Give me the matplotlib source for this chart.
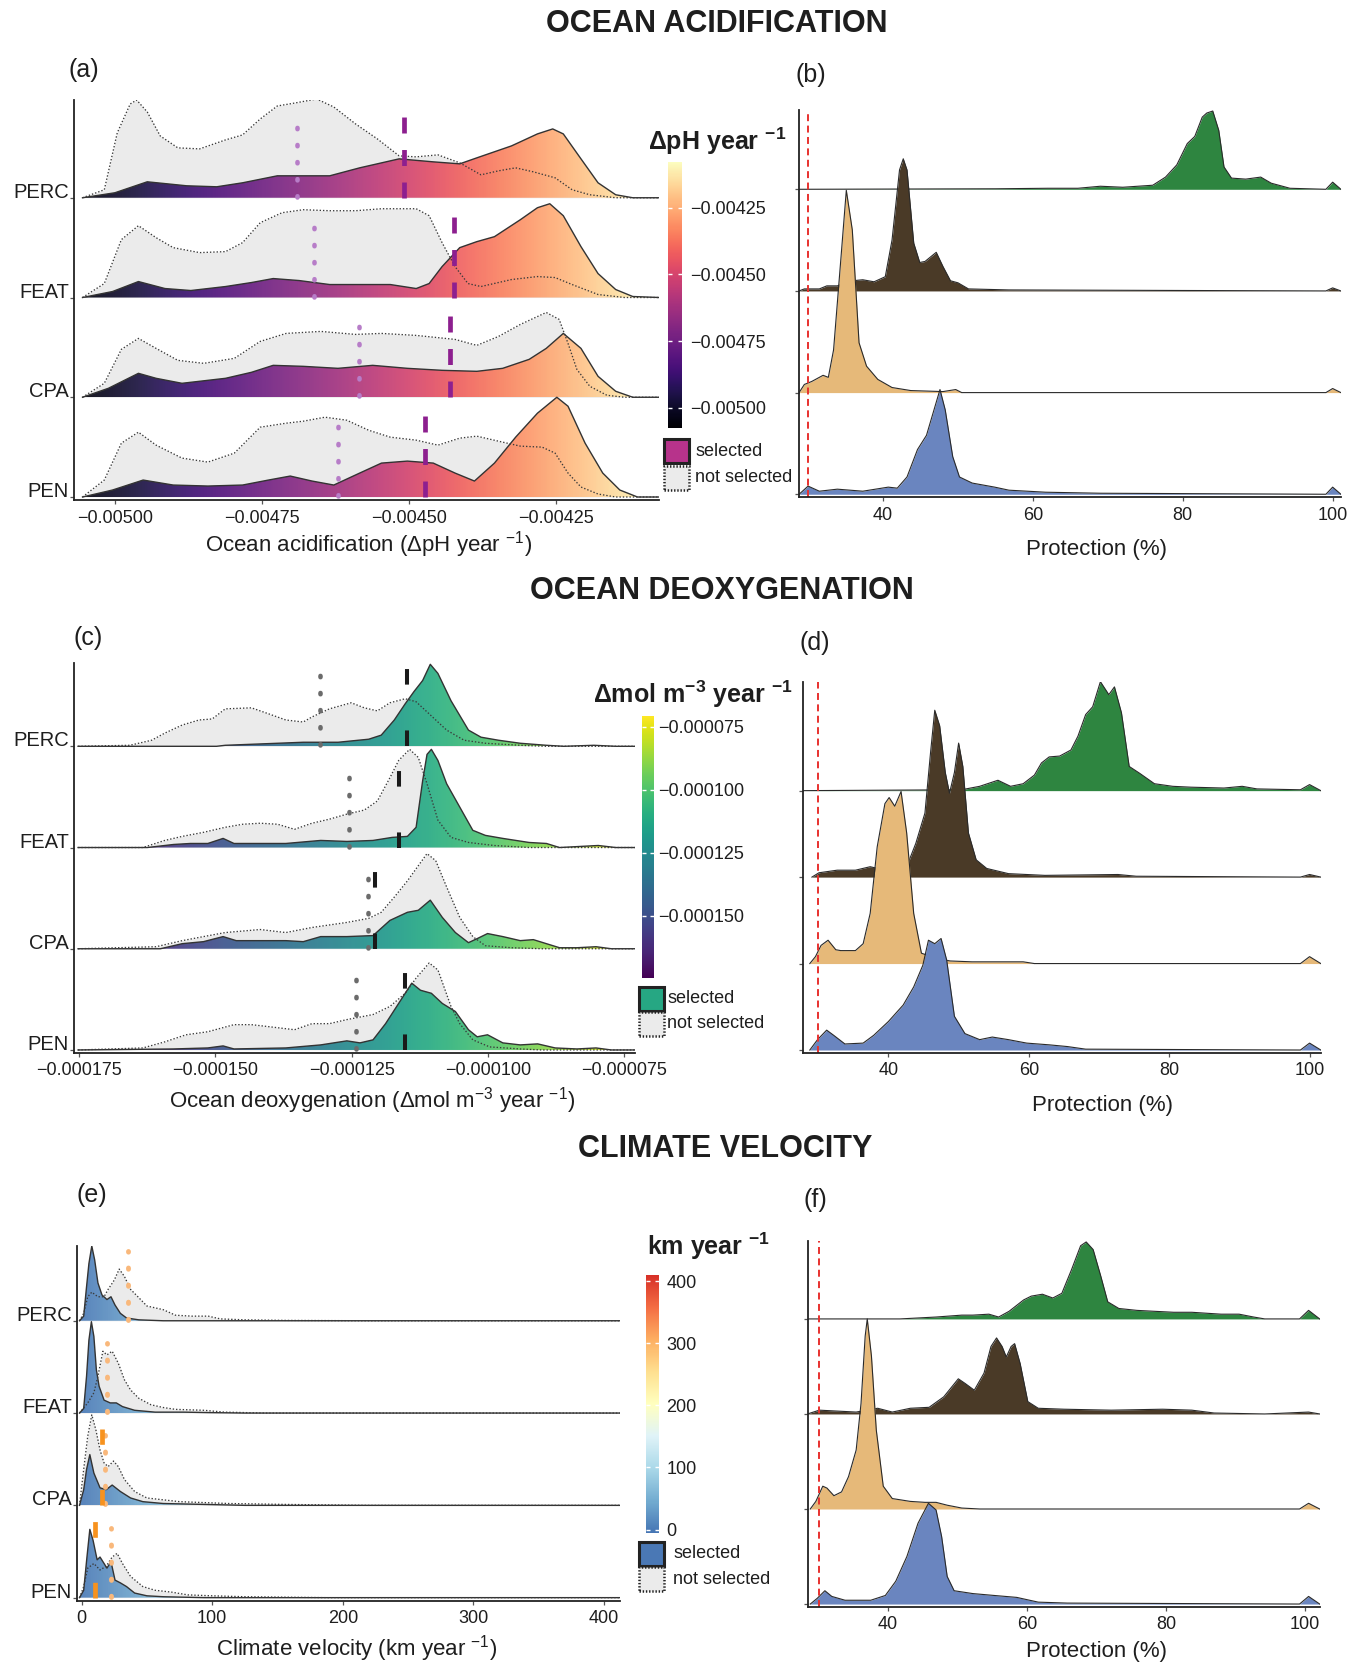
import numpy as np
import matplotlib
matplotlib.use("Agg")
import matplotlib.pyplot as plt
from matplotlib.colors import Normalize, LinearSegmentedColormap
from matplotlib.patches import Polygon, Rectangle
import matplotlib.cm as cm

plt.rcParams.update({
    'font.family': ['Liberation Sans', 'DejaVu Sans'],
    'mathtext.fontset': 'custom',
    'mathtext.rm': 'Liberation Sans',
    'mathtext.it': 'Liberation Sans:italic',
    'mathtext.bf': 'Liberation Sans:bold',
    'mathtext.sf': 'Liberation Sans',
    'lines.scale_dashes': False,
    'axes.unicode_minus': True,
})

# ---------------------------------------------------------------- data
CATS = ["PEN", "CPA", "FEAT", "PERC"]          # bottom -> top

# (a) Ocean acidification (values in 1e-6 pH/yr), heights in ridge units
OA_PERC_SEL_X = [-5055,-5000,-4945,-4878,-4827,-4783,-4724,-4680,-4635,-4584,-4517,-4459,-4414,-4385,-4326,-4282,-4256,-4238,-4208,-4179,-4149,-4120,-4075]
OA_PERC_SEL_H = [0,.05,.16,.12,.11,.15,.22,.22,.22,.30,.39,.36,.34,.40,.52,.64,.69,.64,.39,.15,.03,0,0]
OA_PERC_NS_X = [-5055,-5018,-4996,-4974,-4963,-4945,-4923,-4893,-4856,-4812,-4783,-4753,-4724,-4694,-4657,-4628,-4591,-4554,-4517,-4488,-4451,-4414,-4378,-4348,-4319,-4289,-4252,-4223,-4193,-4149,-4075]
OA_PERC_NS_H = [0,.08,.65,.94,.98,.86,.62,.50,.49,.58,.63,.79,.92,.95,.99,.91,.74,.59,.42,.41,.43,.35,.23,.27,.30,.26,.20,.08,.03,0,0]
OA_FEAT_SEL_X = [-5055,-5004,-4960,-4915,-4871,-4812,-4768,-4731,-4687,-4635,-4584,-4532,-4488,-4466,-4444,-4414,-4385,-4355,-4311,-4282,-4261,-4238,-4208,-4179,-4149,-4120,-4075]
OA_FEAT_SEL_H = [0,.06,.16,.09,.07,.11,.15,.19,.17,.13,.13,.13,.09,.14,.31,.50,.56,.61,.78,.90,.94,.82,.51,.24,.08,.01,0]
OA_FEAT_NS_X = [-5055,-5018,-4989,-4960,-4930,-4901,-4856,-4812,-4783,-4753,-4716,-4680,-4635,-4591,-4547,-4488,-4466,-4444,-4422,-4400,-4378,-4326,-4282,-4252,-4223,-4179,-4134,-4075]
OA_FEAT_NS_H = [0,.14,.58,.72,.60,.50,.45,.46,.55,.75,.85,.88,.87,.87,.89,.89,.82,.55,.31,.14,.11,.18,.21,.20,.13,.03,0,0]
OA_CPA_SEL_X = [-5055,-5011,-4960,-4930,-4886,-4812,-4768,-4731,-4680,-4621,-4562,-4503,-4444,-4385,-4341,-4296,-4267,-4238,-4208,-4179,-4149,-4120,-4075]
OA_CPA_SEL_H = [0,.09,.24,.19,.14,.19,.25,.32,.31,.29,.32,.29,.27,.26,.29,.38,.49,.64,.49,.21,.06,0,0]
OA_CPA_NS_X = [-5055,-5018,-4989,-4960,-4930,-4893,-4849,-4797,-4753,-4709,-4650,-4591,-4547,-4488,-4422,-4385,-4348,-4311,-4267,-4245,-4230,-4215,-4193,-4164,-4134,-4075]
OA_CPA_NS_H = [0,.14,.48,.59,.49,.37,.34,.39,.56,.64,.66,.63,.64,.62,.58,.52,.61,.73,.85,.78,.54,.28,.11,.02,0,0]
OA_PEN_SEL_X = [-5055,-5004,-4952,-4901,-4842,-4783,-4739,-4702,-4665,-4628,-4584,-4547,-4503,-4459,-4422,-4389,-4355,-4319,-4282,-4249,-4230,-4201,-4171,-4142,-4112,-4075]
OA_PEN_SEL_H = [0,.07,.17,.12,.11,.12,.17,.21,.16,.12,.24,.34,.36,.34,.24,.16,.34,.60,.84,1.00,.91,.54,.24,.07,0,0]
OA_PEN_NS_X = [-5055,-5018,-4989,-4960,-4930,-4886,-4842,-4797,-4753,-4709,-4680,-4643,-4606,-4569,-4532,-4488,-4451,-4414,-4385,-4341,-4311,-4274,-4252,-4230,-4208,-4179,-4149,-4075]
OA_PEN_NS_H = [0,.17,.54,.65,.52,.39,.35,.44,.70,.74,.76,.80,.77,.67,.60,.57,.52,.59,.61,.55,.51,.50,.44,.24,.10,.03,0,0]
OA_MED_NS = [-4621, -4586, -4661, -4691]      # PEN, CPA, FEAT, PERC
OA_MED_SEL = [-4473, -4431, -4423, -4508]
OA_TICKS = [-0.005, -0.00475, -0.0045, -0.00425]
OA_TICKLABELS = ["\u22120.00500", "\u22120.00475", "\u22120.00450", "\u22120.00425"]

# (c) Ocean deoxygenation (values in 1e-6 mol m-3 / yr)
OD_PERC_SEL_X = [-175.2,-149.8,-148.2,-138.6,-133.9,-127.5,-121.9,-119.6,-117.2,-115.2,-113.6,-112.0,-110.6,-109.2,-106.8,-103.6,-101.3,-98.1,-94.1,-89.3,-86.1,-80.6,-76.6,-73.0]
OD_PERC_SEL_H = [0,0,.01,.03,.04,.04,.07,.11,.26,.42,.54,.65,.81,.72,.45,.16,.09,.06,.03,.01,0,.01,0,0]
OD_PERC_NS_X = [-175.2,-165.7,-161.7,-159.3,-156.1,-153.0,-150.6,-148.2,-143.4,-140.2,-137.1,-133.9,-132.3,-129.1,-125.1,-122.7,-120.3,-118.0,-115.2,-113.2,-110.8,-107.6,-104.4,-100.5,-94.1,-89.3,-73.0]
OD_PERC_NS_H = [0,.01,.06,.13,.21,.26,.27,.37,.38,.32,.26,.24,.29,.37,.43,.38,.35,.43,.47,.44,.32,.16,.06,.03,.01,0,0]
OD_FEAT_SEL_X = [-175.2,-162.5,-157.7,-154.6,-151.4,-148.6,-146.6,-141.8,-137.1,-130.7,-125.9,-121.1,-117.6,-114.8,-113.2,-112.0,-111.2,-110.4,-109.2,-107.6,-105.2,-102.8,-100.5,-97.3,-92.5,-89.3,-86.9,-79.8,-76.6,-73.0]
OD_FEAT_SEL_H = [0,0,.03,.04,.04,.09,.04,.04,.04,.07,.06,.07,.10,.11,.20,.66,.92,.97,.86,.63,.40,.17,.12,.09,.05,.04,0,.02,0,0]
OD_FEAT_NS_X = [-175.2,-163.3,-159.3,-156.1,-152.2,-148.2,-145.0,-141.8,-138.6,-135.5,-132.3,-129.1,-125.9,-122.7,-120.3,-118.0,-116.4,-114.4,-112.8,-111.2,-109.2,-106.8,-103.6,-98.9,-92.5,-73.0]
OD_FEAT_NS_H = [0,0,.07,.11,.15,.20,.23,.24,.23,.18,.24,.28,.33,.37,.46,.69,.86,.97,.89,.63,.27,.10,.05,.02,0,0]
OD_CPA_SEL_X = [-175.2,-160.1,-156.1,-152.2,-148.6,-146.2,-141.8,-137.1,-133.9,-130.7,-125.9,-121.1,-118.0,-114.8,-112.8,-110.6,-108.4,-106.0,-103.6,-102.0,-100.1,-97.3,-94.1,-91.7,-89.3,-86.9,-83.7,-80.2,-77.4,-73.0]
OD_CPA_SEL_H = [0,0,.05,.07,.12,.08,.08,.08,.07,.12,.12,.13,.28,.36,.38,.48,.31,.16,.06,.10,.15,.12,.08,.09,.05,.01,.01,.02,0,0]
OD_CPA_NS_X = [-175.2,-160.9,-156.1,-152.2,-148.2,-141.8,-137.1,-132.3,-125.9,-121.9,-119.6,-117.2,-114.8,-112.8,-111.2,-109.6,-107.6,-105.2,-102.8,-100.5,-95.7,-90.1,-73.0]
OD_CPA_NS_H = [0,.02,.08,.12,.16,.19,.16,.21,.26,.30,.36,.51,.67,.82,.94,.87,.61,.31,.12,.03,.01,0,0]
OD_PEN_SEL_X = [-175.2,-157.7,-151.4,-148.6,-146.6,-137.1,-130.7,-125.9,-123.5,-121.1,-118.8,-116.4,-114.0,-112.4,-110.4,-108.4,-106.0,-103.6,-102.0,-100.1,-97.3,-94.1,-90.9,-87.7,-83.7,-80.2,-77.4,-73.0]
OD_PEN_SEL_H = [0,.01,.02,.04,.01,.02,.05,.09,.07,.10,.26,.46,.66,.59,.56,.46,.38,.20,.13,.15,.07,.05,.06,.02,.01,.02,0,0]
OD_PEN_NS_X = [-175.2,-163.3,-159.3,-155.4,-151.4,-146.6,-143.4,-140.2,-135.5,-132.3,-129.1,-125.9,-121.1,-118.0,-115.2,-113.2,-110.8,-109.2,-106.8,-105.2,-102.8,-99.7,-94.1,-90.1,-73.0]
OD_PEN_NS_H = [0,.02,.08,.15,.18,.25,.25,.23,.20,.26,.26,.30,.35,.43,.56,.71,.86,.79,.43,.26,.10,.03,.01,0,0]
OD_MED_NS = [-124.2, -122.1, -125.5, -130.9]
OD_MED_SEL = [-115.3, -120.7, -116.4, -114.9]
OD_TICKS = [-0.000175, -0.00015, -0.000125, -0.0001, -0.000075]
OD_TICKLABELS = ["\u22120.000175", "\u22120.000150", "\u22120.000125", "\u22120.000100", "\u22120.000075"]
OD_CB_TICKS = [-0.00015, -0.000125, -0.0001, -0.000075]
OD_CB_LABELS = ["\u22120.000150", "\u22120.000125", "\u22120.000100", "\u22120.000075"]

# (e) Climate velocity (km / yr)
CV_PERC_SEL_X = [-1.6,1.6,3.8,5.6,7.8,10.0,12.5,15.6,19.4,22.5,25.6,29.7,34.4,43.8,62.5,412.5]
CV_PERC_SEL_H = [0,.05,.37,.62,.81,.66,.41,.28,.23,.26,.17,.08,.03,.01,0,0]
CV_PERC_NS_X = [-1.6,1.6,4.7,7.8,12.5,17.2,20.3,25.0,28.8,32.8,37.5,43.8,50.0,62.5,71.9,84.4,96.9,106.3,125,156.3,218.8,412.5]
CV_PERC_NS_H = [0,.08,.26,.31,.26,.26,.34,.44,.56,.48,.34,.25,.16,.12,.06,.05,.05,.02,.01,.004,0,0]
CV_FEAT_SEL_X = [-1.6,1.6,3.8,5.6,7.5,9.4,11.3,13.4,17.2,21.9,26.6,31.3,40.6,56.3,78.1,96.9,125,412.5]
CV_FEAT_SEL_H = [0,.05,.40,.79,.99,.83,.47,.29,.14,.11,.11,.07,.03,.01,.01,.005,0,0]
CV_FEAT_NS_X = [-1.6,4.7,9.4,12.5,16.3,19.4,23.4,28.1,32.8,37.5,43.8,53.1,62.5,71.9,93.8,109.4,140.6,412.5]
CV_FEAT_NS_H = [0,.11,.22,.40,.67,.63,.67,.54,.36,.25,.16,.09,.06,.04,.03,.01,0,0]
CV_CPA_SEL_X = [-1.6,1.6,3.8,6.3,9.4,14.1,18.8,23.4,29.7,37.5,46.9,62.5,93.8,125,412.5]
CV_CPA_SEL_H = [0,.17,.39,.55,.35,.19,.17,.22,.15,.08,.04,.02,.01,0,0]
CV_CPA_NS_X = [-1.6,1.6,4.7,7.8,10.9,14.1,17.2,20.3,24.4,28.1,32.8,40.6,50.0,62.5,75.0,93.8,112.5,156.3,218.8,412.5]
CV_CPA_NS_H = [0,.39,.75,.98,.82,.60,.46,.42,.48,.42,.28,.15,.08,.06,.04,.03,.02,.01,0,0]
CV_PEN_SEL_X = [-1.6,1.6,4.1,6.3,8.8,11.9,14.1,17.2,19.4,22.5,25.6,29.7,34.4,40.6,50.0,62.5,93.8,412.5]
CV_PEN_SEL_H = [0,.08,.44,.74,.62,.41,.44,.37,.32,.39,.19,.16,.12,.05,.02,.01,0,0]
CV_PEN_NS_X = [-1.6,1.6,4.7,9.4,14.1,18.8,23.4,27.2,31.3,37.5,46.9,56.3,68.8,81.3,100,125,187.5,412.5]
CV_PEN_NS_H = [0,.12,.32,.37,.30,.34,.44,.48,.37,.23,.12,.08,.06,.03,.02,.01,0,0]
CV_MED_NS = [22.8, 18.1, 19.7, 35.3]
CV_MED_SEL = [10.0, 15.6, np.nan, np.nan]
CV_TICKS = [0, 100, 200, 300, 400]

# Protection (%) ridges for (b), (d), (f)
PB_PERC_X = [28.8,55,62,66,69,72,76,77.7,79.2,80.6,81.6,82.6,83.2,84.0,84.8,85.5,86.5,88.4,90.4,91.8,94.3,99.1,100.0,101.1]
PB_PERC_H = [0,.005,.01,.01,.03,.02,.04,.12,.24,.45,.52,.71,.75,.77,.58,.22,.11,.10,.12,.06,.01,0,.07,0]
PB_FEAT_X = [28.8,29.5,31.5,32.5,33.9,35.9,37.3,38.8,40.3,41.2,42.2,42.7,43.2,44.1,44.9,45.6,47.1,48.0,49.0,50.0,51.4,56.8,99.1,100.0,101.1]
PB_FEAT_H = [0,.02,.02,.05,.05,.10,.11,.09,.14,.50,1.19,1.30,1.19,.47,.28,.29,.38,.24,.10,.08,.02,.01,0,.03,0]
PB_CPA_X = [28.8,29.5,30.5,32.0,32.7,33.4,34.4,35.1,35.9,36.8,37.8,39.3,41.2,43.7,48.0,49.7,50.5,99.1,100.0,101.1]
PB_CPA_H = [0,.08,.11,.17,.15,.42,1.34,1.99,1.60,.49,.26,.13,.05,.02,.01,.03,0,0,.04,0]
PB_PEN_X = [28.8,30.0,31.5,33.9,37.3,40.7,41.9,43.2,44.6,45.8,46.8,47.6,48.3,49.3,50.2,51.9,54.9,56.8,61.7,69.0,99.1,100.0,101.1]
PB_PEN_H = [0,.08,.03,.05,.03,.07,.06,.17,.44,.58,.83,1.03,.83,.37,.17,.11,.07,.04,.02,.01,0,.07,0]

PD_PERC_X = [27.8,50.4,53.0,55.6,57.4,59.2,60.8,61.8,62.9,64.4,66.0,67.0,68.1,69.1,70.2,71.4,72.2,73.2,74.3,75.8,77.9,80.5,83.1,87.8,90.4,92.5,98.7,100.0,101.6]
PD_PERC_H = [0,.01,.05,.12,.05,.08,.18,.32,.39,.40,.47,.63,.88,.97,1.26,1.11,1.20,.90,.28,.20,.08,.05,.04,.03,.05,.02,.01,.07,0]
PD_FEAT_X = [29.1,30.1,32.7,35.3,37.4,39.0,42.6,43.9,45.2,46.0,46.6,47.3,48.1,48.7,49.4,50.0,50.6,51.4,52.5,54.0,57.1,62.3,72.7,75.3,98.7,100.0,101.6]
PD_FEAT_H = [0,.05,.08,.08,.12,.09,.12,.39,.74,1.44,1.93,1.75,1.21,.97,1.21,1.55,1.28,.51,.20,.10,.04,.02,.03,.01,0,.03,0]
PD_CPA_X = [28.8,29.6,30.4,31.4,32.5,33.2,35.3,36.4,37.4,38.4,39.5,40.1,40.9,41.8,42.6,43.6,44.7,46.8,48.8,51.9,59.2,60.8,98.7,100.0,101.6]
PD_CPA_H = [0,.08,.21,.27,.16,.15,.15,.23,.58,1.35,1.85,1.92,1.82,1.99,1.51,.58,.12,.06,.03,.02,.02,0,0,.08,0]
PD_PEN_X = [28.8,29.9,31.2,32.2,33.8,36.4,37.9,40.0,42.1,43.6,44.9,45.7,46.6,47.5,48.3,49.4,50.9,53.0,54.8,57.1,59.7,62.9,65.5,68.1,98.7,100.0,101.6]
PD_PEN_H = [0,.12,.23,.17,.07,.08,.17,.33,.52,.73,.98,1.27,1.23,1.29,1.04,.39,.19,.12,.15,.12,.08,.06,.04,.01,0,.08,0]

PF_PERC_X = [28.4,41.7,46.9,50.6,52.2,54.5,55.9,57.4,59.5,60.6,62.2,63.7,65.0,66.4,67.7,68.5,69.5,70.6,71.6,73.2,75.8,78.4,81.1,83.7,87.9,90.5,92.6,94.2,99.2,100.5,102.1]
PF_PERC_H = [0,0,.02,.04,.04,.05,.02,.08,.20,.24,.26,.22,.27,.52,.77,.81,.73,.45,.18,.11,.09,.08,.07,.07,.05,.05,.02,0,0,.09,0]
PF_FEAT_X = [28.4,30.1,35.4,38.5,40.6,43.2,45.9,48.0,50.1,51.1,52.4,53.8,54.8,55.6,56.4,57.0,57.7,58.2,59.0,60.1,61.6,65.3,72.1,79.5,83.7,86.9,94.2,100.5,102.1]
PF_FEAT_H = [0,.04,.02,.06,.02,.06,.07,.18,.37,.32,.25,.43,.71,.80,.71,.60,.71,.74,.53,.13,.06,.05,.04,.05,.04,.01,0,.02,0]
PF_CPA_X = [28.8,29.6,30.6,31.2,32.2,33.3,34.3,35.4,36.1,36.7,37.0,37.6,38.3,39.3,40.6,43.2,45.3,46.9,48.5,50.6,53.2,99.2,100.5,102.1]
PF_CPA_H = [0,.08,.24,.22,.14,.18,.34,.62,1.11,1.82,2.0,1.61,.83,.24,.11,.08,.07,.07,.04,.01,0,0,.06,0]
PF_PEN_X = [28.8,29.8,30.9,31.9,33.8,37.5,39.6,41.1,42.7,44.3,45.8,46.9,47.7,48.5,49.5,52.2,55.3,58.5,61.6,65.8,99.2,100.5,102.1]
PF_PEN_H = [0,.06,.14,.08,.04,.04,.09,.24,.50,.85,1.06,.99,.71,.29,.14,.11,.09,.07,.02,.01,0,.08,0]

PROT_TICKS = [40, 60, 80, 100]
TARGET = 30
PROT_COLORS = ["#6a85bf", "#e6b979", "#4a3a27", "#2e8540"]   # PEN, CPA, FEAT, PERC

# ---------------------------------------------------------------- helpers
W, H = 1362, 1666
fig = plt.figure(figsize=(W / 100, H / 100), dpi=100)
TXT = "#1e1e1e"
GREY = "#ebebeb"


def axes_px(x0, x1, ytop, ybot):
    return fig.add_axes([x0 / W, 1 - ybot / H, (x1 - x0) / W, (ybot - ytop) / H])


def ftext(x, y, s, **kw):
    kw.setdefault("color", TXT)
    return fig.text(x / W, 1 - y / H, s, **kw)


def style(ax, xlim, ylim, ticks, ticklabels, ylabels):
    ax.set_xlim(*xlim)
    ax.set_ylim(*ylim)
    ax.patch.set_alpha(0)
    for s in ("top", "right"):
        ax.spines[s].set_visible(False)
    for s in ("left", "bottom"):
        ax.spines[s].set_linewidth(1.3)
        ax.spines[s].set_color("#222222")
        ax.spines[s].set_zorder(200)
    ax.set_xticks(ticks, labels=ticklabels)
    ax.set_yticks(range(4), labels=ylabels if ylabels else [""] * 4)
    ax.tick_params(axis="x", length=3, width=0.9, color="#555555", labelsize=13, pad=4, labelcolor=TXT)
    ax.tick_params(axis="y", length=3, width=0.9, color="#555555", labelsize=14.5, pad=0.5, labelcolor=TXT)
    for lb in ax.get_yticklabels():
        lb.set_va("baseline")


def gradient_fill(ax, x, base, h, cmap, norm, z, alpha):
    x = np.asarray(x, float)
    h = np.asarray(h, float)
    verts = np.column_stack([np.concatenate([x, x[::-1]]),
                             np.concatenate([base + h, np.full(len(x), base)])])
    poly = Polygon(verts, closed=True, facecolor="none", edgecolor="none")
    ax.add_patch(poly)
    grad = np.linspace(x.min(), x.max(), 700)[None, :]
    im = ax.imshow(grad, extent=[x.min(), x.max(), base, base + h.max() + 1e-6],
                   origin="lower", aspect="auto", cmap=cmap, norm=norm,
                   zorder=z, alpha=alpha, interpolation="bilinear")
    im.set_clip_path(poly)


def gradient_ridges(ax, sel_x, sel_h, ns_x, ns_h, cmap, norm, med_ns, med_sel, ms):
    for k in (3, 2, 1, 0):
        z = 10 + (3 - k) * 10
        xn, hn = np.asarray(ns_x[k]), np.asarray(ns_h[k])
        xs, hs = np.asarray(sel_x[k]), np.asarray(sel_h[k])
        ax.fill_between(xn, k, k + hn, color=GREY, lw=0, zorder=z)
        gradient_fill(ax, xs, k, hs, cmap, norm, z + 1, 0.9)
        ax.plot(xs, k + hs, color="#333333", lw=1.0, zorder=z + 2)
        ax.plot(xn, k + hn, color="#3a3a3a", lw=0.95, ls=(0, (1.0, 1.4)), zorder=z + 3)
        # medians
        if np.isfinite(med_ns[k]):
            ax.plot([med_ns[k]] * 2, [k + 0.01, k + ms["ns_h"]], color=ms["ns_c"], lw=ms["ns_lw"],
                    ls=(0, (0.9, 11.4)), dash_capstyle="round", zorder=z + 5)
        if np.isfinite(med_sel[k]):
            ax.plot([med_sel[k]] * 2, [k, k + ms["sel_h"]], color=ms["sel_c"], lw=ms["sel_lw"],
                    ls=(0, ms["sel_dash"]), dash_capstyle="butt", zorder=z + 6)


def protection_ridges(ax, xs, hs):
    for k in (3, 2, 1, 0):
        z = 10 + (3 - k) * 10
        x, h = np.asarray(xs[k]), np.asarray(hs[k])
        ax.fill_between(x, k, k + h, color=PROT_COLORS[k], lw=0, zorder=z)
        ax.plot(x, k + h, color="#2a2a2a", lw=0.8, zorder=z + 1)
    ax.axvline(TARGET, color="#e8312e", lw=1.4, ls=(0, (5, 3.2)), zorder=150)


def colorbar_px(x0, x1, ytop, ybot, cmap, norm, ticks, labels, pad):
    cax = axes_px(x0, x1, ytop, ybot)
    cb = fig.colorbar(cm.ScalarMappable(norm=norm, cmap=cmap), cax=cax)
    cb.outline.set_visible(False)
    cb.set_ticks(ticks, labels=labels)
    cax.yaxis.set_ticks_position("both")
    cax.tick_params(axis="y", direction="in", color="white", length=3, width=1,
                    labelsize=13, pad=pad, labelcolor=TXT, labelleft=False, labelright=True)
    return cb


def legend_px(x0, ytop1, ytop2, color, tx):
    fig.add_artist(Rectangle((x0 / W, 1 - (ytop1 + 24) / H), 25 / W, 24 / H,
                             transform=fig.transFigure, facecolor=color,
                             edgecolor="#222222", lw=2.2))
    fig.add_artist(Rectangle((x0 / W, 1 - (ytop2 + 24) / H), 25 / W, 24 / H,
                             transform=fig.transFigure, facecolor=GREY,
                             edgecolor="#222222", lw=1.8, ls=(0, (1, 1.3))))
    ftext(tx, ytop1 + 12, "selected", fontsize=13, va="center", ha="left")
    ftext(tx, ytop2 + 12, "not selected", fontsize=13, va="center", ha="left")


def order(*arrs):
    return [np.asarray(a, float) for a in arrs]


# ---------------------------------------------------------------- (a)
magma = plt.get_cmap("magma")
norm_a = Normalize(-0.005075, -0.004079)
ax_a = axes_px(73.7, 659, 100, 500)
sx = [np.asarray(a) * 1e-6 for a in (OA_PEN_SEL_X, OA_CPA_SEL_X, OA_FEAT_SEL_X, OA_PERC_SEL_X)]
nx = [np.asarray(a) * 1e-6 for a in (OA_PEN_NS_X, OA_CPA_NS_X, OA_FEAT_NS_X, OA_PERC_NS_X)]
gradient_ridges(ax_a, sx, order(OA_PEN_SEL_H, OA_CPA_SEL_H, OA_FEAT_SEL_H, OA_PERC_SEL_H),
                nx, order(OA_PEN_NS_H, OA_CPA_NS_H, OA_FEAT_NS_H, OA_PERC_NS_H),
                magma, norm_a, np.asarray(OA_MED_NS) * 1e-6, np.asarray(OA_MED_SEL) * 1e-6,
                dict(ns_h=0.71, ns_c="#b77dc8", ns_lw=3.3,
                     sel_h=0.82, sel_c="#8d1f8f", sel_lw=3.4, sel_dash=(11.5, 11.9)))
style(ax_a, (-0.005070, -0.0040754), (-0.03, 3.98), OA_TICKS, OA_TICKLABELS, CATS)

# ---------------------------------------------------------------- (b)
ax_b = axes_px(799.1, 1340.9, 110, 497.3)
protection_ridges(ax_b, order(PB_PEN_X, PB_CPA_X, PB_FEAT_X, PB_PERC_X),
                  order(PB_PEN_H, PB_CPA_H, PB_FEAT_H, PB_PERC_H))
style(ax_b, (28.8, 101.1), (-0.03, 3.78), PROT_TICKS, [str(t) for t in PROT_TICKS], None)

# ---------------------------------------------------------------- (c)
viridis = plt.get_cmap("viridis")
norm_c = Normalize(-174.7e-6, -70.8e-6)
ax_c = axes_px(73.7, 635.3, 663.3, 1052.7)
sx = [np.asarray(a) * 1e-6 for a in (OD_PEN_SEL_X, OD_CPA_SEL_X, OD_FEAT_SEL_X, OD_PERC_SEL_X)]
nx = [np.asarray(a) * 1e-6 for a in (OD_PEN_NS_X, OD_CPA_NS_X, OD_FEAT_NS_X, OD_PERC_NS_X)]
gradient_ridges(ax_c, sx, order(OD_PEN_SEL_H, OD_CPA_SEL_H, OD_FEAT_SEL_H, OD_PERC_SEL_H),
                nx, order(OD_PEN_NS_H, OD_CPA_NS_H, OD_FEAT_NS_H, OD_PERC_NS_H),
                viridis, norm_c, np.asarray(OD_MED_NS) * 1e-6, np.asarray(OD_MED_SEL) * 1e-6,
                dict(ns_h=0.70, ns_c="#6b6b6b", ns_lw=3.3,
                     sel_h=0.76, sel_c="#1a1a1a", sel_lw=2.9, sel_dash=(11.2, 33.0)))
style(ax_c, (-176.0e-6, -73.0e-6), (-0.027, 3.82), OD_TICKS, OD_TICKLABELS, CATS)

# ---------------------------------------------------------------- (d)
ax_d = axes_px(802.8, 1320.8, 681.7, 1052.7)
protection_ridges(ax_d, order(PD_PEN_X, PD_CPA_X, PD_FEAT_X, PD_PERC_X),
                  order(PD_PEN_H, PD_CPA_H, PD_FEAT_H, PD_PERC_H))
style(ax_d, (27.8, 101.6), (-0.031, 4.26), PROT_TICKS, [str(t) for t in PROT_TICKS], None)

# ---------------------------------------------------------------- (e)
cv_cmap = LinearSegmentedColormap.from_list(
    "cv", ["#4575b4", "#74add1", "#abd9e9", "#e0f3f8", "#ffffbf",
           "#fee090", "#fdae61", "#f46d43", "#d73027"])
norm_e = Normalize(-5, 410)
ax_e = axes_px(76.7, 620.4, 1246, 1600.7)
gradient_ridges(ax_e, order(CV_PEN_SEL_X, CV_CPA_SEL_X, CV_FEAT_SEL_X, CV_PERC_SEL_X),
                order(CV_PEN_SEL_H, CV_CPA_SEL_H, CV_FEAT_SEL_H, CV_PERC_SEL_H),
                order(CV_PEN_NS_X, CV_CPA_NS_X, CV_FEAT_NS_X, CV_PERC_NS_X),
                order(CV_PEN_NS_H, CV_CPA_NS_H, CV_FEAT_NS_H, CV_PERC_NS_H),
                cv_cmap, norm_e, np.asarray(CV_MED_NS), np.asarray(CV_MED_SEL),
                dict(ns_h=0.76, ns_c="#f9b87b", ns_lw=3.5,
                     sel_h=0.83, sel_c="#f7921e", sel_lw=3.4, sel_dash=(11.3, 32.4)))
style(ax_e, (-3.75, 412.5), (-0.033, 3.81), CV_TICKS, [str(t) for t in CV_TICKS], CATS)

# ---------------------------------------------------------------- (f)
ax_f = axes_px(807.5, 1319.7, 1241, 1606.7)
protection_ridges(ax_f, order(PF_PEN_X, PF_CPA_X, PF_FEAT_X, PF_PERC_X),
                  order(PF_PEN_H, PF_CPA_H, PF_FEAT_H, PF_PERC_H))
style(ax_f, (28.4, 102.1), (-0.028, 3.82), PROT_TICKS, [str(t) for t in PROT_TICKS], None)

# ---------------------------------------------------------------- colorbars & legends
colorbar_px(668.3, 681.7, 162, 428, magma, norm_a, OA_TICKS, OA_TICKLABELS, 6)
colorbar_px(641.7, 654.0, 716, 978.3, viridis, norm_c, OD_CB_TICKS, OD_CB_LABELS, 3)
colorbar_px(646.0, 659.3, 1275, 1532.7, cv_cmap, norm_e, CV_TICKS, [str(t) for t in CV_TICKS], 5)

legend_px(664, 439, 466, "#b7338b", 695)
legend_px(639, 987, 1012, "#26a783", 667)
legend_px(639, 1542, 1567, "#4a78b5", 673)

ftext(648, 150, r"ΔpH year $^{\mathbf{-1}}$", fontsize=18, fontweight="bold", va="baseline", ha="left")
ftext(593, 703, r"Δmol m$^{\mathbf{-3}}$ year $^{\mathbf{-1}}$", fontsize=18, fontweight="bold", va="baseline", ha="left")
ftext(647, 1255, r"km year $^{\mathbf{-1}}$", fontsize=18, fontweight="bold", va="baseline", ha="left")

# ---------------------------------------------------------------- titles & labels
ftext(717, 24, "OCEAN ACIDIFICATION", fontsize=22, fontweight="bold", ha="center", va="center")
ftext(722, 591, "OCEAN DEOXYGENATION", fontsize=22, fontweight="bold", ha="center", va="center")
ftext(725, 1149, "CLIMATE VELOCITY", fontsize=22, fontweight="bold", ha="center", va="center")

for lab, x, y in (("(a)", 84, 70), ("(b)", 811, 75), ("(c)", 88, 638),
                  ("(d)", 815, 643), ("(e)", 92, 1195), ("(f)", 815, 1200)):
    ftext(x, y, lab, fontsize=18, ha="center", va="center")

ftext(369, 545, r"Ocean acidification (ΔpH year $^{-1}$)", fontsize=16, ha="center", va="center")
ftext(372, 1101, r"Ocean deoxygenation (Δmol m$^{-3}$ year $^{-1}$)", fontsize=16, ha="center", va="center")
ftext(357, 1649, r"Climate velocity (km year $^{-1}$)", fontsize=16, ha="center", va="center")
ftext(1097, 550, "Protection (%)", fontsize=16, ha="center", va="center")
ftext(1102, 1106, "Protection (%)", fontsize=16, ha="center", va="center")
ftext(1096, 1652, "Protection (%)", fontsize=16, ha="center", va="center")

fig.savefig("out.png", dpi=100)
